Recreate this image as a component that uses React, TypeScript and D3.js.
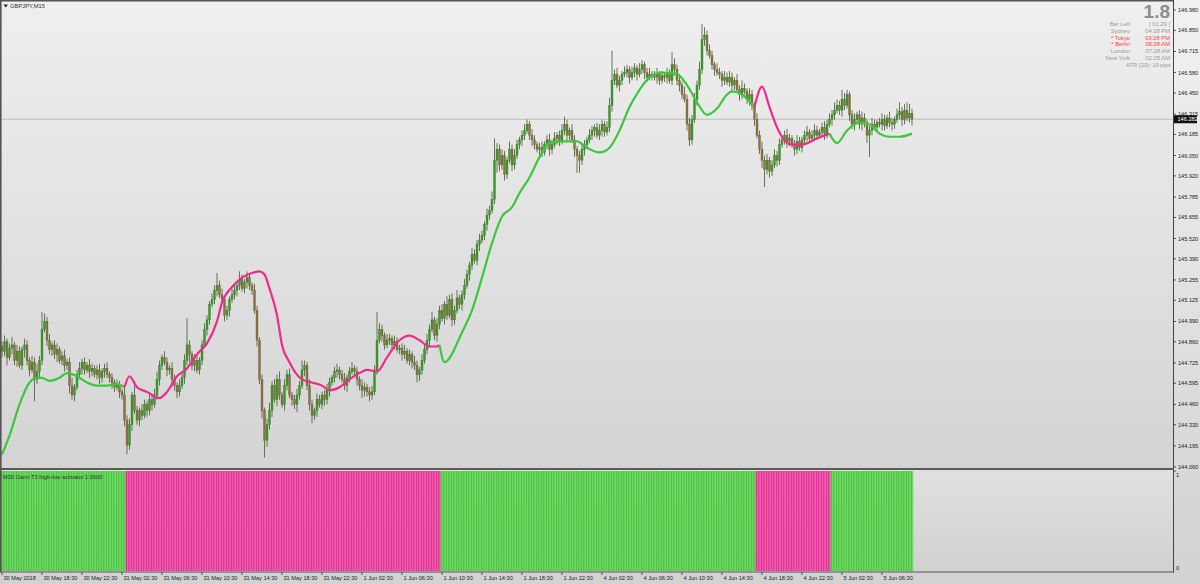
import React from "react";
import * as d3 from "d3";

// GBPJPY M15 closes, 30 May 2018 14:30 -> 5 Jun 2018 09:30 (one per bar)
const closes = [
  144.80, 144.86, 144.76, 144.82, 144.84, 144.74, 144.80, 144.71, 144.81, 144.84,
  144.74, 144.68, 144.73, 144.62, 144.67, 144.74, 144.94, 144.99, 144.87, 144.81,
  144.84, 144.78, 144.81, 144.74, 144.77, 144.71, 144.73, 144.58, 144.52, 144.57,
  144.65, 144.69, 144.73, 144.68, 144.71, 144.67, 144.69, 144.65, 144.68, 144.63,
  144.67, 144.69, 144.65, 144.63, 144.60, 144.57, 144.58, 144.54, 144.52, 144.36,
  144.20, 144.33, 144.52, 144.42, 144.36, 144.42, 144.39, 144.46, 144.42, 144.49,
  144.46, 144.52, 144.62, 144.71, 144.76, 144.73, 144.68, 144.69, 144.62, 144.58,
  144.54, 144.58, 144.63, 144.74, 144.84, 144.78, 144.71, 144.74, 144.68, 144.74,
  144.84, 144.94, 145.00, 145.10, 145.13, 145.19, 145.22, 145.16, 145.13, 145.03,
  145.06, 145.13, 145.16, 145.19, 145.22, 145.26, 145.20, 145.24, 145.27, 145.22,
  145.19, 145.06, 144.87, 144.62, 144.42, 144.23, 144.33, 144.42, 144.58, 144.49,
  144.62, 144.52, 144.46, 144.58, 144.65, 144.52, 144.49, 144.46, 144.52, 144.58,
  144.68, 144.71, 144.58, 144.46, 144.39, 144.42, 144.49, 144.46, 144.52, 144.49,
  144.55, 144.60, 144.63, 144.67, 144.68, 144.65, 144.62, 144.58, 144.63, 144.67,
  144.69, 144.67, 144.62, 144.58, 144.55, 144.57, 144.54, 144.52, 144.54, 144.68,
  144.87, 144.94, 144.90, 144.84, 144.87, 144.88, 144.84, 144.86, 144.81, 144.82,
  144.78, 144.80, 144.74, 144.78, 144.73, 144.71, 144.65, 144.68, 144.74, 144.81,
  144.87, 144.94, 145.00, 144.90, 144.97, 145.06, 145.01, 145.10, 145.03, 145.13,
  145.00, 145.06, 145.14, 145.10, 145.16, 145.22, 145.29, 145.35, 145.42, 145.38,
  145.48, 145.51, 145.54, 145.61, 145.67, 145.70, 145.77, 146.02, 146.09, 145.99,
  146.05, 145.93, 146.02, 146.09, 145.99, 146.05, 146.12, 146.15, 146.18, 146.21,
  146.25, 146.18, 146.15, 146.12, 146.09, 146.10, 146.07, 146.12, 146.15, 146.09,
  146.12, 146.16, 146.18, 146.14, 146.21, 146.25, 146.18, 146.21, 146.15, 146.09,
  146.05, 146.02, 146.09, 146.12, 146.15, 146.18, 146.21, 146.23, 146.18, 146.21,
  146.25, 146.20, 146.23, 146.37, 146.53, 146.57, 146.50, 146.53, 146.57, 146.58,
  146.60, 146.55, 146.58, 146.61, 146.57, 146.60, 146.63, 146.58, 146.55, 146.57,
  146.56, 146.55, 146.57, 146.53, 146.56, 146.55, 146.57, 146.53, 146.63, 146.60,
  146.53, 146.50, 146.44, 146.41, 146.25, 146.15, 146.28, 146.41, 146.50, 146.60,
  146.79, 146.82, 146.72, 146.69, 146.63, 146.60, 146.58, 146.57, 146.53, 146.55,
  146.52, 146.55, 146.50, 146.53, 146.47, 146.44, 146.48, 146.46, 146.41, 146.44,
  146.37, 146.28, 146.18, 146.09, 146.02, 145.96, 146.02, 145.95, 145.99, 146.05,
  146.02, 146.12, 146.15, 146.18, 146.14, 146.16, 146.12, 146.09, 146.14, 146.10,
  146.15, 146.18, 146.20, 146.16, 146.18, 146.21, 146.18, 146.20, 146.23, 146.19,
  146.25, 146.28, 146.31, 146.34, 146.37, 146.34, 146.41, 146.37, 146.44, 146.31,
  146.25, 146.28, 146.31, 146.25, 146.29, 146.26, 146.18, 146.21, 146.25, 146.23,
  146.26, 146.25, 146.28, 146.24, 146.29, 146.26, 146.25, 146.28, 146.31, 146.33,
  146.28, 146.34, 146.29, 146.32, 146.282,
];
const firstOpen = 144.83;

// wick lengths above / below the body, in pips (0.01)
const upWick = [
  3, 4, 2, 3, 5, 2, 4, 3, 2, 4, 3, 2, 4, 3, 5, 3, 11, 5, 3, 4,
  2, 3, 4, 2, 3, 4, 2, 3, 5, 2, 3, 4, 2, 3, 2, 4, 3, 2, 3, 4,
  2, 3, 4, 2, 3, 2, 4, 3, 2, 5, 3, 4, 2, 6, 3, 2, 4, 3, 2, 4,
  3, 4, 5, 3, 2, 4, 3, 2, 4, 3, 2, 4, 3, 4, 17, 3, 2, 4, 3, 2,
  3, 4, 3, 2, 4, 3, 8, 3, 4, 2, 3, 2, 4, 3, 2, 5, 3, 2, 4, 3,
  2, 4, 3, 2, 3, 2, 4, 5, 3, 4, 3, 5, 2, 4, 3, 4, 2, 3, 4, 3,
  6, 3, 2, 4, 3, 2, 4, 3, 2, 3, 4, 3, 2, 3, 4, 2, 3, 4, 2, 3,
  4, 2, 3, 2, 4, 3, 2, 3, 4, 3, 18, 4, 3, 2, 4, 3, 2, 4, 3, 2,
  3, 4, 2, 3, 2, 4, 3, 2, 4, 3, 4, 3, 5, 2, 4, 3, 4, 2, 5, 3,
  4, 3, 5, 2, 3, 4, 3, 2, 4, 3, 3, 4, 3, 2, 4, 3, 5, 14, 4, 3,
  4, 3, 2, 5, 3, 4, 3, 2, 3, 4, 3, 2, 4, 3, 2, 3, 4, 2, 3, 4,
  3, 4, 2, 3, 4, 5, 3, 2, 4, 3, 2, 3, 4, 3, 2, 4, 3, 2, 3, 4,
  3, 2, 4, 5, 19, 3, 4, 3, 2, 4, 3, 2, 4, 3, 2, 4, 3, 2, 3, 4,
  2, 3, 4, 2, 3, 2, 4, 3, 8, 4, 3, 4, 2, 5, 3, 4, 3, 4, 3, 5,
  10, 5, 3, 4, 3, 2, 4, 3, 2, 4, 3, 4, 3, 2, 4, 3, 5, 3, 2, 4,
  3, 2, 4, 3, 5, 3, 4, 2, 3, 4, 3, 4, 2, 3, 4, 3, 2, 3, 4, 3,
  2, 3, 4, 2, 3, 4, 3, 2, 3, 4, 3, 4, 3, 5, 4, 3, 6, 4, 3, 2,
  3, 4, 2, 3, 4, 3, 2, 3, 4, 3, 2, 3, 4, 3, 2, 4, 3, 2, 4, 6,
  3, 4, 5, 6, 3,
];
const downWick = [
  4, 3, 5, 2, 4, 3, 4, 2, 3, 5, 3, 4, 2, 14, 3, 4, 3, 2, 4, 3,
  4, 3, 5, 2, 3, 4, 3, 5, 3, 4, 2, 3, 4, 3, 2, 4, 3, 2, 3, 4,
  3, 4, 2, 3, 4, 3, 2, 4, 3, 4, 6, 3, 4, 2, 3, 4, 3, 2, 4, 3,
  4, 2, 3, 4, 3, 2, 4, 3, 5, 3, 4, 3, 2, 4, 3, 5, 3, 4, 2, 3,
  3, 2, 4, 3, 2, 3, 4, 2, 3, 4, 3, 4, 2, 3, 4, 3, 2, 3, 4, 3,
  3, 2, 4, 3, 5, 11, 4, 3, 4, 2, 4, 3, 2, 4, 3, 2, 4, 3, 5, 3,
  2, 4, 3, 4, 5, 3, 4, 2, 3, 4, 3, 4, 2, 3, 4, 3, 2, 3, 4, 3,
  2, 3, 4, 3, 5, 4, 3, 4, 3, 2, 3, 2, 4, 3, 2, 3, 4, 3, 2, 3,
  4, 3, 2, 3, 4, 3, 5, 4, 3, 2, 3, 4, 2, 3, 4, 3, 2, 4, 3, 2,
  4, 3, 2, 3, 4, 3, 2, 4, 3, 2, 3, 4, 2, 3, 4, 3, 2, 3, 8, 4,
  3, 4, 3, 2, 4, 3, 2, 3, 4, 3, 2, 3, 4, 3, 2, 4, 3, 2, 3, 4,
  3, 2, 4, 3, 2, 3, 4, 3, 2, 5, 11, 8, 3, 4, 3, 2, 3, 4, 2, 3,
  4, 3, 2, 3, 4, 3, 2, 4, 3, 2, 3, 4, 2, 3, 4, 2, 3, 4, 3, 2,
  3, 2, 4, 3, 2, 3, 4, 2, 3, 4, 3, 4, 3, 2, 4, 4, 3, 2, 4, 3,
  3, 4, 3, 2, 3, 4, 2, 3, 4, 3, 2, 3, 4, 3, 2, 4, 3, 2, 3, 4,
  3, 4, 2, 3, 5, 11, 3, 4, 3, 2, 4, 3, 2, 3, 4, 3, 2, 4, 3, 2,
  3, 2, 4, 3, 2, 4, 3, 2, 3, 4, 3, 2, 4, 3, 2, 3, 4, 3, 2, 4,
  3, 4, 2, 3, 4, 3, 5, 14, 3, 2, 3, 2, 4, 3, 2, 3, 4, 3, 2, 3,
  4, 3, 2, 3, 4,
];

// M30 Gann T3 high-low activator state, as runs of bars
const trendRuns: [string, number][] = [
  ["up", 50],
  ["down", 126],
  ["up", 126],
  ["down", 30],
  ["up", 33],
];

// T3 line read at bar positions: [bar index, price]
const t3Points: [number, number][] = [
  [0, 144.14], [3, 144.26], [7, 144.46], [11, 144.6], [14, 144.63], [16, 144.63], [19, 144.61],
  [23, 144.63], [26, 144.66], [30, 144.64], [34, 144.6], [38, 144.58], [42, 144.58], [46, 144.59],
  [49, 144.57], [51, 144.64], [54, 144.57], [58, 144.54], [63, 144.5], [66, 144.54], [70, 144.64],
  [74, 144.69], [78, 144.78], [82, 144.85], [86, 144.99], [88, 145.11], [92, 145.21], [96, 145.27],
  [100, 145.3], [103, 145.31], [105, 145.29], [107, 145.2], [110, 145.03], [112, 144.84], [115, 144.73],
  [118, 144.65], [120, 144.62], [124, 144.6], [128, 144.58], [131, 144.55], [135, 144.57], [139, 144.62],
  [143, 144.66], [146, 144.68], [150, 144.67], [154, 144.76], [159, 144.87], [163, 144.9], [167, 144.87],
  [171, 144.83], [174, 144.83], [175, 144.84], [177, 144.73], [184, 144.92], [188, 145.06], [192, 145.27],
  [196, 145.49], [200, 145.66], [204, 145.72], [207, 145.81], [211, 145.91], [215, 146.04], [219, 146.13],
  [224, 146.14], [230, 146.14], [234, 146.1], [239, 146.07], [243, 146.1], [247, 146.21], [251, 146.36],
  [255, 146.47], [259, 146.55], [264, 146.58], [270, 146.57], [274, 146.5], [278, 146.39], [282, 146.31],
  [286, 146.35], [290, 146.44], [292, 146.46], [296, 146.44], [301, 146.36], [304, 146.49], [307, 146.36],
  [310, 146.23], [312, 146.17], [316, 146.12], [320, 146.12], [326, 146.16], [331, 146.19], [334, 146.13],
  [338, 146.21], [343, 146.26], [347, 146.25], [351, 146.19], [355, 146.17], [359, 146.17], [364, 146.19],
];

const priceTicks = [
  146.98, 146.85, 146.715, 146.58, 146.45, 146.315, 146.185, 146.05, 145.92, 145.785, 145.655, 145.52,
  145.39, 145.255, 145.125, 144.99, 144.86, 144.725, 144.595, 144.46, 144.33, 144.195, 144.06,
];

const timeLabels = [
  "30 May 2018", "30 May 18:30", "30 May 22:30", "31 May 02:30", "31 May 06:30", "31 May 10:30",
  "31 May 14:30", "31 May 18:30", "31 May 22:30", "1 Jun 02:30", "1 Jun 06:30", "1 Jun 10:30",
  "1 Jun 14:30", "1 Jun 18:30", "1 Jun 22:30", "4 Jun 02:30", "4 Jun 06:30", "4 Jun 10:30",
  "4 Jun 14:30", "4 Jun 18:30", "4 Jun 22:30", "5 Jun 02:30", "5 Jun 06:30",
];
const barsPerLabel = 16;

const clockNames = ["Bar Left", "Sydney", "* Tokyo", "* Berlin", "London", "New York"];
const clockValues = ["[ 01:29 ]", "04:28 PM", "03:28 PM", "08:28 AM", "07:28 AM", "02:28 AM"];
const clockActive = [false, false, true, true, false, false];
const spreadText = "1.8";
const atrText = "ATR (20): 19 pips";

const W = 1200;
const H = 584;
const FONT = "'Liberation Sans', Arial, sans-serif";
const GREEN = "#3cc83c";
const PINK = "#ee2a8c";

const App: React.FC = () => {
  const n = closes.length;
  const trend: string[] = [];
  trendRuns.forEach(([t, c]) => {
    for (let k = 0; k < c; k++) trend.push(t);
  });

  const x = d3.scaleLinear().domain([0, n - 1]).range([2, 912]);
  const y = d3.scaleLinear().domain([144.06, 146.98]).range([467, 10]);
  const ySub = d3.scaleLinear().domain([0, 1]).range([571, 471]);
  const step = x(1) - x(0);

  const bars = closes.map((c, i) => {
    const o = i === 0 ? firstOpen : closes[i - 1];
    const hi = Math.max(o, c) + upWick[i] / 100;
    const lo = Math.min(o, c) - downWick[i] / 100;
    return { i, o, c, hi, lo };
  });

  // split the T3 line in coloured pieces following the activator state
  const pieces: { color: string; pts: [number, number][] }[] = [];
  for (let k = 1; k < t3Points.length; k++) {
    const col = trend[t3Points[k][0]] === "up" ? GREEN : PINK;
    const last = pieces[pieces.length - 1];
    if (last && last.color === col) last.pts.push(t3Points[k]);
    else pieces.push({ color: col, pts: [t3Points[k - 1], t3Points[k]] });
  }
  const line = d3
    .line<[number, number]>()
    .x((d) => x(d[0]))
    .y((d) => y(d[1]))
    .curve(d3.curveMonotoneX);

  const lastClose = closes[n - 1];

  return (
    <svg
      width={W}
      height={H}
      style={{ position: "absolute", left: 0, top: 0, display: "block" }}
      fontFamily={FONT}
    >
      <defs>
        <linearGradient id="bg" x1="0" y1="0" x2="0" y2="1">
          <stop offset="0" stopColor="#f1f1f1" />
          <stop offset="1" stopColor="#d2d2d2" />
        </linearGradient>
        <linearGradient id="main" x1="0" y1="0" x2="0" y2="1">
          <stop offset="0" stopColor="#efefef" />
          <stop offset="1" stopColor="#d4d4d4" />
        </linearGradient>
        <linearGradient id="sub" x1="0" y1="0" x2="0" y2="1">
          <stop offset="0" stopColor="#e0e0e0" />
          <stop offset="1" stopColor="#d1d1d1" />
        </linearGradient>
      </defs>
      <rect x={0} y={0} width={W} height={H} fill="url(#bg)" />
      <rect x={1} y={1} width={1172} height={467} fill="url(#main)" />
      <rect x={1} y={470} width={1172} height={102} fill="url(#sub)" />

      {/* current price line */}
      <line x1={1} x2={1173} y1={y(lastClose)} y2={y(lastClose)} stroke="#bdbdbd" strokeWidth={1} />

      {/* candles */}
      <g>
        {bars.map((b) => {
          const cx = x(b.i);
          const top = y(Math.max(b.o, b.c));
          const bot = y(Math.min(b.o, b.c));
          const up = b.c >= b.o;
          return (
            <g key={b.i}>
              <line x1={cx} x2={cx} y1={y(b.hi)} y2={y(b.lo)} stroke="#56673f" strokeWidth={0.9} />
              <rect
                x={cx - 1}
                y={top}
                width={2}
                height={Math.max(0.9, bot - top)}
                fill={up ? "#3e9a2a" : "#8a7245"}
                stroke={up ? "#2d7420" : "#6a5834"}
                strokeWidth={0.35}
              />
            </g>
          );
        })}
      </g>

      {/* T3 line */}
      {pieces.map((p, k) => (
        <path key={k} d={line(p.pts) || ""} fill="none" stroke={p.color} strokeWidth={2.2} strokeLinejoin="round" />
      ))}

      {/* activator histogram */}
      <g>
        {closes.map((_, i) => {
          const upT = trend[i] === "up";
          return (
            <g key={i}>
              <rect
                x={x(i) - step / 2}
                y={ySub(1)}
                width={step}
                height={ySub(0) - ySub(1)}
                fill={upT ? "#6ddc5f" : "#f25bb0"}
              />
              <line
                x1={x(i) - step / 2 + 0.5}
                x2={x(i) - step / 2 + 0.5}
                y1={ySub(1)}
                y2={ySub(0)}
                stroke={upT ? "#3fb83a" : "#d91f86"}
                strokeWidth={0.9}
              />
            </g>
          );
        })}
      </g>

      {/* frames */}
      <line x1={0.5} x2={1173.5} y1={0.8} y2={0.8} stroke="#555" strokeWidth={1.6} />
      <line x1={0.8} x2={0.8} y1={0} y2={572} stroke="#555" strokeWidth={1.6} />
      <line x1={1173.5} x2={1173.5} y1={0} y2={572.5} stroke="#444" strokeWidth={1} />
      <line x1={0} x2={1174} y1={469} y2={469} stroke="#5a5a5a" strokeWidth={2} />
      <line x1={0} x2={1174} y1={572} y2={572} stroke="#555" strokeWidth={1} />

      {/* labels */}
      <path d="M3.5,4.5 L8,4.5 L5.75,7.5 Z" fill="#222" />
      <text x={10} y={8.2} fontSize={5.8} fill="#333">
        GBPJPY,M15
      </text>
      <text x={3} y={478.5} fontSize={5.7} fill="#333">
        M30 Gann T3 high-low activator 1.0000
      </text>

      {/* info panel */}
      <text x={1170} y={17.5} fontSize={19} fontWeight="bold" fill="#8c8c8c" textAnchor="end">
        {spreadText}
      </text>
      {clockNames.map((nm, k) => {
        const yy = 26 + k * 6.75;
        const col = clockActive[k] ? "#ff3b3b" : "#9a9a9a";
        return (
          <g key={nm}>
            <text x={1130} y={yy} fontSize={5.8} fill={col} textAnchor="end">
              {nm}
            </text>
            <text x={1170} y={yy} fontSize={5.8} fill={col} textAnchor="end">
              {clockValues[k]}
            </text>
          </g>
        );
      })}
      <text x={1171} y={26 + 6 * 6.75} fontSize={5.8} fill="#9a9a9a" textAnchor="end">
        {atrText}
      </text>

      {/* price axis */}
      {priceTicks.map((p) => (
        <g key={p}>
          <line x1={1173} x2={1176} y1={y(p)} y2={y(p)} stroke="#333" strokeWidth={0.8} />
          <text x={1178} y={y(p) + 2} fontSize={5.6} fill="#222">
            {d3.format(".3f")(p)}
          </text>
        </g>
      ))}
      <rect x={1174} y={y(lastClose) - 4} width={23} height={8} fill="#111" />
      <text x={1177.5} y={y(lastClose) + 2} fontSize={5.6} fill="#fff">
        {d3.format(".3f")(lastClose)}
      </text>

      {/* sub-window axis */}
      <line x1={1173} x2={1176} y1={ySub(1)} y2={ySub(1)} stroke="#333" strokeWidth={0.8} />
      <text x={1176} y={ySub(1) + 6} fontSize={5.6} fill="#222">
        1
      </text>
      <text x={1176} y={ySub(0) - 1.5} fontSize={5.6} fill="#222">
        0
      </text>

      {/* time axis */}
      {timeLabels.map((t, k) => {
        const tx = x(k * barsPerLabel);
        return (
          <g key={t}>
            <line x1={tx} x2={tx} y1={572} y2={575} stroke="#333" strokeWidth={0.8} />
            <text x={tx + 1.5} y={580} fontSize={5.6} fill="#222">
              {t}
            </text>
          </g>
        );
      })}
    </svg>
  );
};

export default App;
